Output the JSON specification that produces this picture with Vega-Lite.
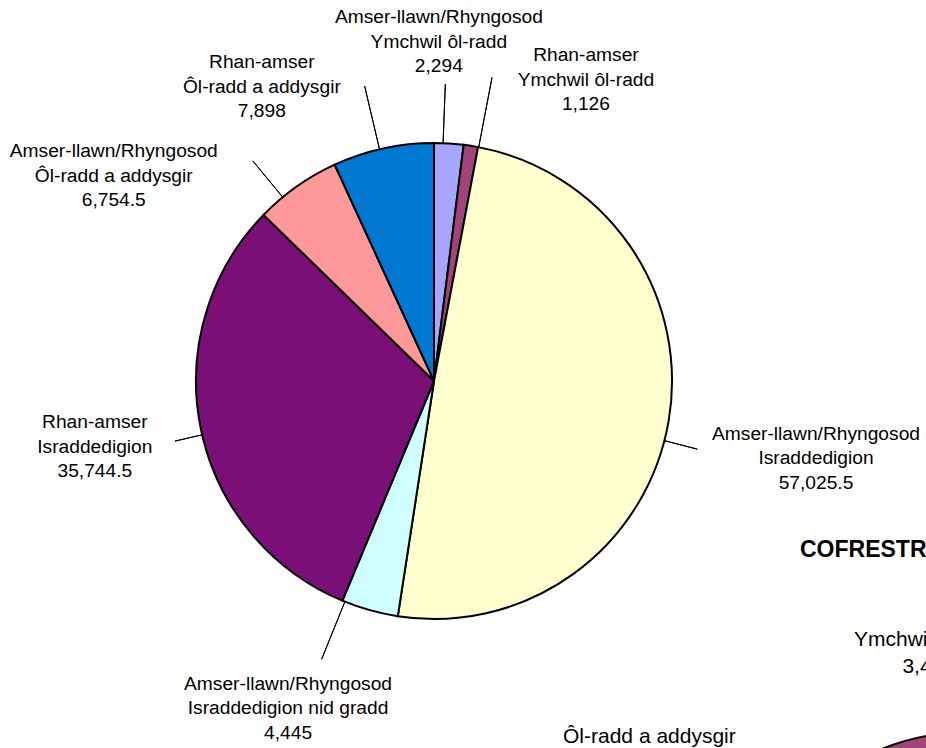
{
  "$schema": "https://vega.github.io/schema/vega-lite/v6.json",
  "width": 868,
  "height": 734,
  "autosize": {"type": "none"},
  "padding": {"left": 0, "top": 14, "right": 58, "bottom": 0},
  "background": "#ffffff",
  "config": {"view": {"stroke": null}, "font": "Liberation Sans"},
  "title": {"text": "COFRESTRIADAU ÔL-RADD", "anchor": "start", "frame": "group", "orient": "top", "offset": 0, "baseline": "middle", "dx": 800, "dy": 565, "fontSize": 23, "fontWeight": "bold", "font": "Liberation Sans", "color": "#000000"},
  "datasets": {
    "enrol": [
      {"k": 1, "cat": "Amser-llawn/Rhyngosod Ymchwil ôl-radd", "label": "Amser-llawn/Rhyngosod\nYmchwil ôl-radd\n2,294", "value": 2294},
      {"k": 2, "cat": "Rhan-amser Ymchwil ôl-radd", "label": "Rhan-amser\nYmchwil ôl-radd\n1,126", "value": 1126},
      {"k": 3, "cat": "Amser-llawn/Rhyngosod Israddedigion", "label": "Amser-llawn/Rhyngosod\nIsraddedigion\n57,025.5", "value": 57025.5},
      {"k": 4, "cat": "Amser-llawn/Rhyngosod Israddedigion nid gradd", "label": "Amser-llawn/Rhyngosod\nIsraddedigion nid gradd\n4,445", "value": 4445},
      {"k": 5, "cat": "Rhan-amser Israddedigion", "label": "Rhan-amser\nIsraddedigion\n35,744.5", "value": 35744.5},
      {"k": 6, "cat": "Amser-llawn/Rhyngosod Ôl-radd a addysgir", "label": "Amser-llawn/Rhyngosod\nÔl-radd a addysgir\n6,754.5", "value": 6754.5},
      {"k": 7, "cat": "Rhan-amser Ôl-radd a addysgir", "label": "Rhan-amser\nÔl-radd a addysgir\n7,898", "value": 7898}
    ],
    "pg": [
      {"k": 1, "cat": "Ymchwil ôl-radd", "label": "Ymchwil ôl-radd\n3,420", "value": 3420},
      {"k": 2, "cat": "Ôl-radd a addysgir", "label": "Ôl-radd a addysgir\n14,652.5", "value": 14652.5}
    ]
  },
  "layer": [
    {
      "data": {"name": "enrol"},
      "mark": {"type": "arc", "outerRadius": 238, "stroke": "#000000", "strokeWidth": 2},
      "encoding": {
        "theta": {"field": "value", "type": "quantitative", "stack": true},
        "order": {"field": "k", "type": "quantitative"},
        "color": {"field": "cat", "type": "nominal", "legend": null,
          "scale": {"domain": ["Amser-llawn/Rhyngosod Ymchwil ôl-radd", "Rhan-amser Ymchwil ôl-radd", "Amser-llawn/Rhyngosod Israddedigion", "Amser-llawn/Rhyngosod Israddedigion nid gradd", "Rhan-amser Israddedigion", "Amser-llawn/Rhyngosod Ôl-radd a addysgir", "Rhan-amser Ôl-radd a addysgir"],
                    "range": ["#A6A6FF", "#A0457A", "#FFFFD0", "#D0FFFF", "#7B0F78", "#FF9999", "#0077D0"]}}
      }
    },
    {"data": {"name": "enrol"}, "mark": {"type": "arc", "innerRadius": 238, "outerRadius": 297, "padAngle": 3.1416, "thetaOffset": -0.0244, "theta2Offset": -0.0244, "fillOpacity": 0, "stroke": "#000000", "strokeWidth": 1},
     "encoding": {"theta": {"field": "value", "type": "quantitative", "stack": true}, "order": {"field": "k", "type": "quantitative"}, "strokeOpacity": {"condition": {"test": "datum.k === 1", "value": 1}, "value": 0}}},
    {"data": {"name": "enrol"}, "mark": {"type": "arc", "innerRadius": 238, "outerRadius": 309, "padAngle": 3.1416, "thetaOffset": 0.0332, "theta2Offset": 0.0332, "fillOpacity": 0, "stroke": "#000000", "strokeWidth": 1},
     "encoding": {"theta": {"field": "value", "type": "quantitative", "stack": true}, "order": {"field": "k", "type": "quantitative"}, "strokeOpacity": {"condition": {"test": "datum.k === 2", "value": 1}, "value": 0}}},
    {"data": {"name": "enrol"}, "mark": {"type": "arc", "innerRadius": 238, "outerRadius": 272, "padAngle": 3.1416, "thetaOffset": 0.0838, "theta2Offset": 0.0838, "fillOpacity": 0, "stroke": "#000000", "strokeWidth": 1},
     "encoding": {"theta": {"field": "value", "type": "quantitative", "stack": true}, "order": {"field": "k", "type": "quantitative"}, "strokeOpacity": {"condition": {"test": "datum.k === 3", "value": 1}, "value": 0}}},
    {"data": {"name": "enrol"}, "mark": {"type": "arc", "innerRadius": 238, "outerRadius": 300, "padAngle": 3.1416, "thetaOffset": 0.11, "theta2Offset": 0.11, "fillOpacity": 0, "stroke": "#000000", "strokeWidth": 1},
     "encoding": {"theta": {"field": "value", "type": "quantitative", "stack": true}, "order": {"field": "k", "type": "quantitative"}, "strokeOpacity": {"condition": {"test": "datum.k === 4", "value": 1}, "value": 0}}},
    {"data": {"name": "enrol"}, "mark": {"type": "arc", "innerRadius": 238, "outerRadius": 266, "padAngle": 3.1416, "thetaOffset": -0.0262, "theta2Offset": -0.0262, "fillOpacity": 0, "stroke": "#000000", "strokeWidth": 1},
     "encoding": {"theta": {"field": "value", "type": "quantitative", "stack": true}, "order": {"field": "k", "type": "quantitative"}, "strokeOpacity": {"condition": {"test": "datum.k === 5", "value": 1}, "value": 0}}},
    {"data": {"name": "enrol"}, "mark": {"type": "arc", "innerRadius": 238, "outerRadius": 285, "padAngle": 3.1416, "thetaOffset": -0.0742, "theta2Offset": -0.0742, "fillOpacity": 0, "stroke": "#000000", "strokeWidth": 1},
     "encoding": {"theta": {"field": "value", "type": "quantitative", "stack": true}, "order": {"field": "k", "type": "quantitative"}, "strokeOpacity": {"condition": {"test": "datum.k === 6", "value": 1}, "value": 0}}},
    {"data": {"name": "enrol"}, "mark": {"type": "arc", "innerRadius": 238, "outerRadius": 303, "padAngle": 3.1416, "thetaOffset": -0.0157, "theta2Offset": -0.0157, "fillOpacity": 0, "stroke": "#000000", "strokeWidth": 1},
     "encoding": {"theta": {"field": "value", "type": "quantitative", "stack": true}, "order": {"field": "k", "type": "quantitative"}, "strokeOpacity": {"condition": {"test": "datum.k === 7", "value": 1}, "value": 0}}},
    {"data": {"name": "enrol"}, "mark": {"type": "text", "radius": 238, "dx": -10, "dy": -126, "fontSize": 19.2, "lineHeight": 24.5, "lineBreak": "\n", "align": "center", "baseline": "middle", "color": "#000000", "font": "Liberation Sans"},
     "encoding": {"theta": {"field": "value", "type": "quantitative", "stack": true}, "order": {"field": "k", "type": "quantitative"}, "text": {"condition": {"test": "datum.k === 1", "field": "label", "type": "nominal"}, "value": ""}}},
    {"data": {"name": "enrol"}, "mark": {"type": "text", "radius": 238, "dx": 115, "dy": -90.5, "fontSize": 19.2, "lineHeight": 24.5, "lineBreak": "\n", "align": "center", "baseline": "middle", "color": "#000000", "font": "Liberation Sans"},
     "encoding": {"theta": {"field": "value", "type": "quantitative", "stack": true}, "order": {"field": "k", "type": "quantitative"}, "text": {"condition": {"test": "datum.k === 2", "field": "label", "type": "nominal"}, "value": ""}}},
    {"data": {"name": "enrol"}, "mark": {"type": "text", "radius": 238, "dx": 147.4, "dy": 12.5, "fontSize": 19.2, "lineHeight": 24.5, "lineBreak": "\n", "align": "center", "baseline": "middle", "color": "#000000", "font": "Liberation Sans"},
     "encoding": {"theta": {"field": "value", "type": "quantitative", "stack": true}, "order": {"field": "k", "type": "quantitative"}, "text": {"condition": {"test": "datum.k === 3", "field": "label", "type": "nominal"}, "value": ""}}},
    {"data": {"name": "enrol"}, "mark": {"type": "text", "radius": 238, "dx": -81.6, "dy": 73.5, "fontSize": 19.2, "lineHeight": 24.5, "lineBreak": "\n", "align": "center", "baseline": "middle", "color": "#000000", "font": "Liberation Sans"},
     "encoding": {"theta": {"field": "value", "type": "quantitative", "stack": true}, "order": {"field": "k", "type": "quantitative"}, "text": {"condition": {"test": "datum.k === 4", "field": "label", "type": "nominal"}, "value": ""}}},
    {"data": {"name": "enrol"}, "mark": {"type": "text", "radius": 238, "dx": -106, "dy": -6.5, "fontSize": 19.2, "lineHeight": 24.5, "lineBreak": "\n", "align": "center", "baseline": "middle", "color": "#000000", "font": "Liberation Sans"},
     "encoding": {"theta": {"field": "value", "type": "quantitative", "stack": true}, "order": {"field": "k", "type": "quantitative"}, "text": {"condition": {"test": "datum.k === 5", "field": "label", "type": "nominal"}, "value": ""}}},
    {"data": {"name": "enrol"}, "mark": {"type": "text", "radius": 238, "dx": -183, "dy": -35.1, "fontSize": 19.2, "lineHeight": 24.5, "lineBreak": "\n", "align": "center", "baseline": "middle", "color": "#000000", "font": "Liberation Sans"},
     "encoding": {"theta": {"field": "value", "type": "quantitative", "stack": true}, "order": {"field": "k", "type": "quantitative"}, "text": {"condition": {"test": "datum.k === 6", "field": "label", "type": "nominal"}, "value": ""}}},
    {"data": {"name": "enrol"}, "mark": {"type": "text", "radius": 238, "dx": -121.3, "dy": -86, "fontSize": 19.2, "lineHeight": 24.5, "lineBreak": "\n", "align": "center", "baseline": "middle", "color": "#000000", "font": "Liberation Sans"},
     "encoding": {"theta": {"field": "value", "type": "quantitative", "stack": true}, "order": {"field": "k", "type": "quantitative"}, "text": {"condition": {"test": "datum.k === 7", "field": "label", "type": "nominal"}, "value": ""}}},
    {
      "data": {"name": "pg"},
      "mark": {"type": "arc", "outerRadius": 238, "x": 970, "y": 956, "stroke": "#000000", "strokeWidth": 2},
      "encoding": {
        "theta": {"field": "value", "type": "quantitative", "stack": true},
        "order": {"field": "k", "type": "quantitative"},
        "color": {"field": "cat", "type": "nominal", "legend": null,
          "scale": {"domain": ["Ymchwil ôl-radd", "Ôl-radd a addysgir"], "range": ["#A6A6FF", "#A0457A"]}}
      }
    },
    {"data": {"name": "pg"}, "mark": {"type": "text", "x": 970, "y": 956, "radius": 238, "dx": -174.6, "dy": -132.8, "fontSize": 21, "lineHeight": 26.5, "lineBreak": "\n", "align": "center", "baseline": "middle", "color": "#000000", "font": "Liberation Sans"},
     "encoding": {"theta": {"field": "value", "type": "quantitative", "stack": true}, "order": {"field": "k", "type": "quantitative"}, "text": {"condition": {"test": "datum.k === 1", "field": "label", "type": "nominal"}, "value": ""}}},
    {"data": {"name": "pg"}, "mark": {"type": "text", "x": 970, "y": 956, "radius": 238, "dx": -187.3, "dy": -429.7, "fontSize": 21, "lineHeight": 26.5, "lineBreak": "\n", "align": "center", "baseline": "middle", "color": "#000000", "font": "Liberation Sans"},
     "encoding": {"theta": {"field": "value", "type": "quantitative", "stack": true}, "order": {"field": "k", "type": "quantitative"}, "text": {"condition": {"test": "datum.k === 2", "field": "label", "type": "nominal"}, "value": ""}}}
  ],
  "resolve": {"scale": {"theta": "independent", "color": "independent"}}
}
